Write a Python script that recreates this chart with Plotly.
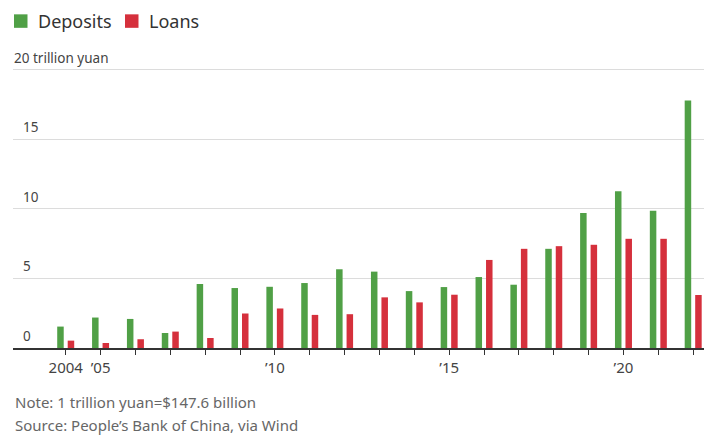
import plotly.graph_objects as go

years = list(range(2004, 2023))
deposits = [1.54, 2.19, 2.09, 1.08, 4.60, 4.31, 4.40, 4.67, 5.66, 5.49, 4.09, 4.38, 5.10, 4.55, 7.13, 9.70, 11.26, 9.87, 17.80]
loans = [0.53, 0.36, 0.63, 1.18, 0.72, 2.48, 2.84, 2.38, 2.43, 3.64, 3.28, 3.83, 6.33, 7.13, 7.32, 7.42, 7.85, 7.85, 3.81]

x_tick_labels = {2004: "2004", 2005: "\u201905", 2010: "\u201910", 2015: "\u201915", 2020: "\u201920"}
y_ticks = [0, 5, 10, 15, 20]
y_tick_labels = ["0", "5", "10", "15", "20 trillion yuan"]

GREEN = "#50a046"
RED = "#d5303c"
FONT = "Noto Sans"

W, H = 704, 436
YMAX = 20.2
ML, MR, MB = 13, 0, 88
PW = W - ML - MR
PH = (H - MB - 69.5) * YMAX / 20.0
MT = H - MB - PH


def px_x(px):
    return (px - ML) / PW


def px_y(py):
    return (H - MB - py) / PH


fig = go.Figure()
fig.add_trace(go.Bar(x=years, y=deposits, name="Deposits", showlegend=False,
                     marker=dict(color=GREEN, line=dict(width=0))))
fig.add_trace(go.Bar(x=years, y=loans, name="Loans", showlegend=False,
                     marker=dict(color=RED, line=dict(width=0))))

annotations = []
shapes = []
for v, t in zip(y_ticks, y_tick_labels):
    xpx = ML - 1 if v == 20 else ML + 8
    annotations.append(dict(
        x=px_x(xpx), xref="paper", y=v, yref="y", text=t, showarrow=False,
        xanchor="left", yanchor="bottom", yshift=1,
        font=dict(family=FONT, size=13.5, color="#444"),
    ))

# legend (manual, to match spacing of the reference)
legend_items = [("Deposits", GREEN, 14), ("Loans", RED, 125)]
for name, color, x0 in legend_items:
    shapes.append(dict(type="rect", xref="paper", yref="paper",
                       x0=px_x(x0), x1=px_x(x0 + 13.5), y0=px_y(27.5), y1=px_y(14),
                       fillcolor=color, line=dict(width=0)))
    annotations.append(dict(
        x=px_x(x0 + 22), xref="paper", y=px_y(21), yref="paper", text=name, showarrow=False,
        xanchor="left", yanchor="middle",
        font=dict(family=FONT, size=18, color="#333"),
    ))

notes = ["Note: 1 trillion yuan=$147.6 billion", "Source: People\u2019s Bank of China, via Wind"]
note_y = [402, 425]
for t, py in zip(notes, note_y):
    annotations.append(dict(
        x=0, xref="paper", y=px_y(py), yref="paper", text=t, showarrow=False,
        xanchor="left", yanchor="middle",
        font=dict(family=FONT, size=15, color="#666"),
    ))

fig.update_layout(
    width=W, height=H,
    margin=dict(l=ML, r=MR, t=MT, b=MB, pad=0),
    paper_bgcolor="white", plot_bgcolor="white",
    barmode="group", bargap=0.398, bargroupgap=0.38,
    font=dict(family=FONT, color="#444"),
    showlegend=False,
    annotations=annotations,
    shapes=shapes,
)

fig.update_xaxes(
    range=[2002.488, 2022.31],
    tickvals=years,
    ticktext=[x_tick_labels.get(y, "") for y in years],
    ticks="outside", ticklen=5, tickwidth=1, tickcolor="#333",
    showline=True, linecolor="#333", linewidth=1.5,
    showgrid=False, zeroline=False,
    tickfont=dict(family=FONT, size=15, color="#444"),
    fixedrange=True,
)
fig.update_yaxes(
    range=[0, YMAX],
    tickvals=y_ticks, showticklabels=False,
    showgrid=True, gridcolor="#dcdcdc", gridwidth=1,
    zeroline=False, showline=False, ticks="",
    fixedrange=True,
)

fig.write_html("out.html")
